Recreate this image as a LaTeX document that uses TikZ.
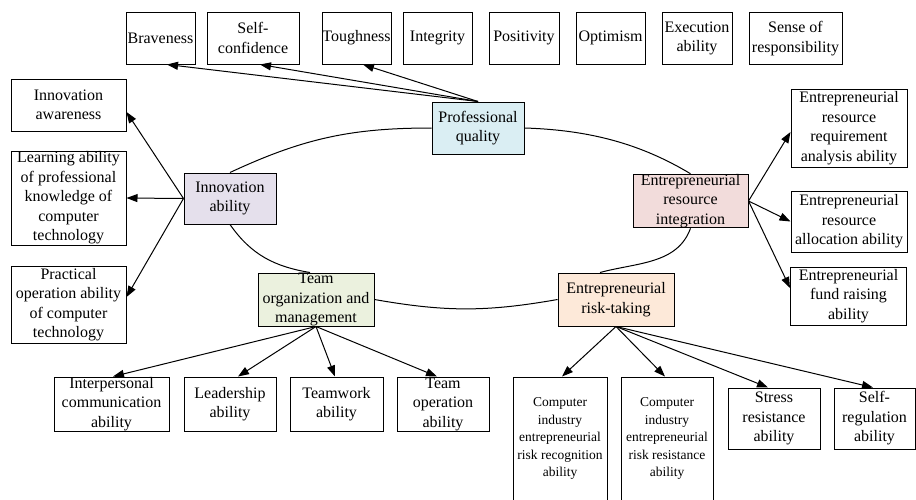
\documentclass[tikz,border=0pt]{standalone}
\usepackage{fontspec}
\setmainfont{Liberation Serif}
\usetikzlibrary{arrows.meta}
\definecolor{cpq}{HTML}{DAEEF3}
\definecolor{cia}{HTML}{E5E0EC}
\definecolor{ctom}{HTML}{EBF1DE}
\definecolor{cert}{HTML}{FDE9D9}
\definecolor{ceri}{HTML}{F2DCDB}
\begin{document}
\begin{tikzpicture}[x=1pt,y=-1pt,
  box/.style={draw, line width=1pt, align=center, inner sep=0pt, fill=white,
    font=\fontsize{16}{19.5}\selectfont},
  smalltext/.style={font=\fontsize{13.5}{17.5}\selectfont},
  arr/.style={line width=1pt, -{Triangle[length=11pt,width=8pt]}},
  ring/.style={line width=1pt}]
\fill[white] (0,0) rectangle (916,499);
\useasboundingbox (0,0) rectangle (916,499);
\begin{scope}
\clip (0,0) rectangle (916,499);
% top row
\node[box, minimum width=69pt, minimum height=52pt] (brave) at (160.5,38) {Braveness};
\node[box, minimum width=92pt, minimum height=52pt] (selfc) at (253,38) {Self-\\confidence};
\node[box, minimum width=69pt, minimum height=52pt] (tough) at (356.5,38) {Toughness};
\node[box, minimum width=69pt, minimum height=52pt] (integ) at (437.5,38) {Integrity};
\node[box, minimum width=70pt, minimum height=52pt] (posit) at (524,38) {Positivity};
\node[box, minimum width=69pt, minimum height=52pt] (optim) at (610.5,38) {Optimism};
\node[box, minimum width=70pt, minimum height=52pt] (exec) at (697,38.5) {Execution\\ability};
\node[box, minimum width=93pt, minimum height=52pt] (sense) at (795.5,38.5) {Sense of\\responsibility};
% central nodes
\node[box, fill=cpq, minimum width=92pt, minimum height=52pt] (pq) at (478,128) {Professional\\quality};
\node[box, fill=cia, minimum width=92pt, minimum height=51pt] (ia) at (230,198.5) {Innovation\\ability};
\node[box, fill=ctom, minimum width=116pt, minimum height=53pt] (tom) at (316,299.5) {Team\\organization and\\management};
\node[box, fill=cert, minimum width=116pt, minimum height=53pt] (ert) at (616,299.5) {Entrepreneurial\\risk-taking};
\node[box, fill=ceri, minimum width=115pt, minimum height=52pt] (eri) at (690.5,201) {Entrepreneurial\\resource\\integration};
% left column
\node[box, minimum width=115pt, minimum height=52pt] (innaw) at (68.5,105) {Innovation\\awareness};
\node[box, minimum width=115pt, minimum height=94pt] (learn) at (68.5,198) {Learning ability\\of professional\\knowledge of\\computer\\technology};
\node[box, minimum width=115pt, minimum height=77pt] (pract) at (68.5,304.5) {Practical\\operation ability\\of computer\\technology};
% right column
\node[box, minimum width=116pt, minimum height=78pt] (req) at (849,128) {Entrepreneurial\\resource\\requirement\\analysis ability};
\node[box, minimum width=116pt, minimum height=61pt] (alloc) at (849,221.5) {Entrepreneurial\\resource\\allocation ability};
\node[box, minimum width=116pt, minimum height=58pt] (fund) at (848.5,296) {Entrepreneurial\\fund raising\\ability};
% team row
\node[box, minimum width=115pt, minimum height=54pt] (interp) at (111.5,404) {Interpersonal\\communication\\ability};
\node[box, minimum width=92pt, minimum height=54pt] (lead) at (230,404) {Leadership\\ability};
\node[box, minimum width=93pt, minimum height=54pt] (teamw) at (336.5,404) {Teamwork\\ability};
\node[box, minimum width=92pt, minimum height=54pt] (teamop) at (443,404) {Team\\operation\\ability};
% risk row
\node[box, smalltext, minimum width=94pt, minimum height=123pt] (recog) at (560,438.5) {Computer\\industry\\entrepreneurial\\risk recognition\\ability};
\node[box, smalltext, minimum width=92pt, minimum height=123pt] (resist) at (667,438.5) {Computer\\industry\\entrepreneurial\\risk resistance\\ability};
\node[box, minimum width=92pt, minimum height=61pt] (stress) at (774,418.5) {Stress\\resistance\\ability};
\node[box, minimum width=81pt, minimum height=61pt] (selfreg) at (874.5,418.5) {Self-\\regulation\\ability};
% ring
\draw[ring] (pq.west) .. controls +(-81,0) and +(73,-34) .. (ia.north);
\draw[ring] (ia.south) .. controls +(21,30) and +(-36,-6) .. ([xshift=-6pt]tom.north);
\draw[ring] (tom.east) .. controls +(71,12.5) and +(-71,12.5) .. (ert.west);
\draw[ring] ([xshift=-16pt]ert.north) .. controls +(37,-10) and +(-13,36) .. (eri.south);
\draw[ring] (pq.east) .. controls +(65,2) and +(-50,-30) .. (eri.north);
% arrows from professional quality
\draw[arr] (pq.north) -- ([xshift=6.5pt]brave.south);
\draw[arr] (pq.north) -- ([xshift=7pt]selfc.south);
\draw[arr] (pq.north) -- ([xshift=6.5pt]tough.south);
% arrows from innovation ability
\draw[arr] (ia.west) -- ([yshift=-7pt]innaw.east);
\draw[arr] (ia.west) -- (learn.east);
\draw[arr] (ia.west) -- ([yshift=7.5pt]pract.east);
% arrows from resource integration
\draw[arr] (eri.east) -- ([yshift=-4pt]req.west);
\draw[arr] (eri.east) -- (alloc.west);
\draw[arr] (eri.east) -- ([yshift=8pt]fund.west);
% arrows from team organization
\draw[arr] (tom.south) -- ([xshift=1.5pt]interp.north);
\draw[arr] (tom.south) -- ([xshift=8pt]lead.north);
\draw[arr] (tom.south) -- ([xshift=-1.5pt]teamw.north);
\draw[arr] (tom.south) -- ([xshift=-6pt]teamop.north);
% arrows from risk-taking
\draw[arr] (ert.south) -- ([xshift=2pt]recog.north);
\draw[arr] (ert.south) -- ([xshift=-2pt]resist.north);
\draw[arr] (ert.south) -- ([xshift=-6pt]stress.north);
\draw[arr] (ert.south) -- ([xshift=-1.5pt]selfreg.north);
\end{scope}
\end{tikzpicture}
\end{document}
